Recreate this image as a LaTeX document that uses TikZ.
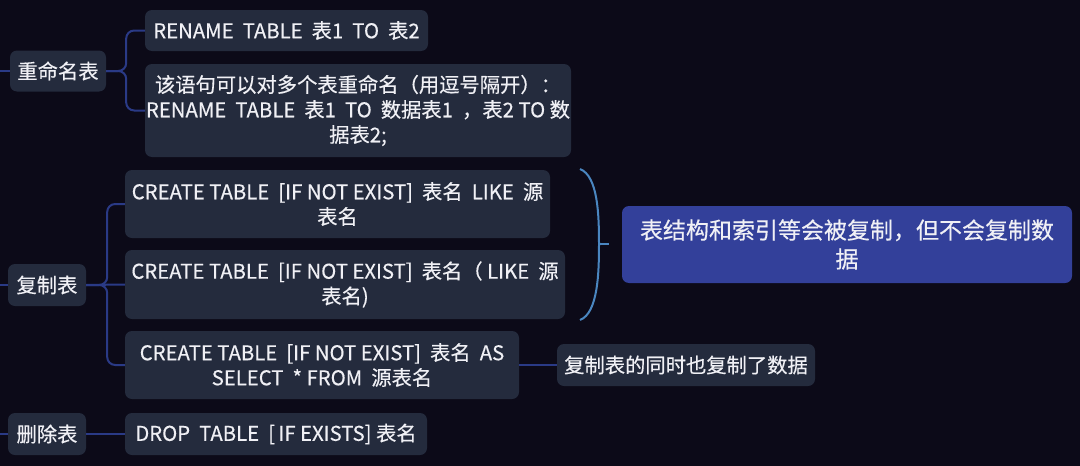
\documentclass[tikz,border=0pt]{standalone}
\usepackage{fontspec}
\setmainfont{Noto Sans CJK SC}[FakeBold=0.4]
\usetikzlibrary{positioning}
\definecolor{bgdark}{HTML}{0C0A18}
\definecolor{boxfill}{HTML}{242B3D}
\definecolor{linkblue}{HTML}{2A3A86}
\definecolor{bracketblue}{HTML}{4A86C0}
\definecolor{notefill}{HTML}{33409A}
\definecolor{txt}{HTML}{F0F0F5}
\newcommand{\MapNode}[6]{%
  \node[#1, minimum width=#4, minimum height=#5] (#2) at (#3) {#6};
}

\begin{document}
\begin{tikzpicture}[x=1pt,y=-1pt,font=\fontsize{20.3}{25}\selectfont,
    box/.style={fill=boxfill, rounded corners=7pt, text=txt, align=center, inner sep=0pt},
    note/.style={box, fill=notefill, font=\fontsize{23}{29}\selectfont},
    link/.style={draw=linkblue, line width=2pt, rounded corners=8pt}]
    \fill[bgdark] (0,0) rectangle (1080,466);
    \useasboundingbox (0,0) rectangle (1080,466);
    % topics
    \MapNode{box}{ren}{58,71}{96pt}{41pt}{重命名表}
    \MapNode{box}{cp}{47,285}{78pt}{42pt}{复制表}
    \MapNode{box}{del}{47,434}{78pt}{42pt}{删除表}
    % subtopics
    \MapNode{box}{r1}{286.5,30.5}{283pt}{41pt}{RENAME\ \ TABLE\ \ 表1\ \ TO\ \ 表2}
    \MapNode{box}{r2}{358,110.5}{426pt}{93pt}{该语句可以对多个表重命名（用逗号隔开）：\\RENAME\ \ TABLE\ \ 表1\ \ TO\ \ 数据表1\ \ ，表2 TO 数\\据表2;}
    \MapNode{box}{c1}{337.5,204}{425pt}{68pt}{CREATE TABLE\ \ [IF NOT EXIST]\ \ 表名\ \ LIKE\ \ 源\\表名}
    \MapNode{box}{c2}{345,284.5}{440pt}{69pt}{CREATE TABLE\ \ [IF NOT EXIST]\ \ 表名（\ LIKE\ \ 源\\表名)}
    \MapNode{box}{c3}{322,365}{394pt}{68pt}{CREATE TABLE\ \ [IF NOT EXIST]\ \ 表名\ \ AS\\SELECT\ \ *\ FROM\ \ 源表名}
    \MapNode{box}{d1}{276,434}{302pt}{42pt}{DROP\ \ TABLE\ \ [\,IF EXISTS]\ 表名}
    \MapNode{box}{s1}{686,365}{258pt}{42pt}{复制表的同时也复制了数据}
    \MapNode{note}{sum}{847,244.5}{450pt}{77pt}{表结构和索引等会被复制，但不会复制数\\据}
    % links
    \coordinate (in1) at (0,71);
    \coordinate (in2) at (0,285);
    \coordinate (in3) at (0,434);
    \draw[link] (in1) -- (ren.west);
    \draw[link] (in2) -- (cp.west);
    \draw[link] (in3) -- (del.west);
    \draw[link] (ren.east) -- ++(20,0) |- (r1.west);
    \draw[link] (ren.east) -- ++(20,0) |- (r2.west);
    \draw[link] (cp.east) -- ++(21,0) |- (c1.west);
    \draw[link] (cp.east) -- ++(21,0) |- (c3.west);
    \draw[link] (cp.east) -- (c2.west);
    \draw[link] (del.east) -- (d1.west);
    \draw[link] (c3.east) -- (s1.west);
    % summary bracket
    \coordinate (brtop) at (580,169);
    \coordinate (brmid) at (599,244);
    \coordinate (brbot) at (580,320);
    \coordinate (brtip) at (609,244);
    \draw[bracketblue, line width=2pt] (brtop) .. controls (598,176) and (599,215) .. (brmid)
      .. controls (599,273) and (598,313) .. (brbot);
    \draw[bracketblue, line width=2pt] (brmid) -- (brtip);
\end{tikzpicture}
\end{document}
